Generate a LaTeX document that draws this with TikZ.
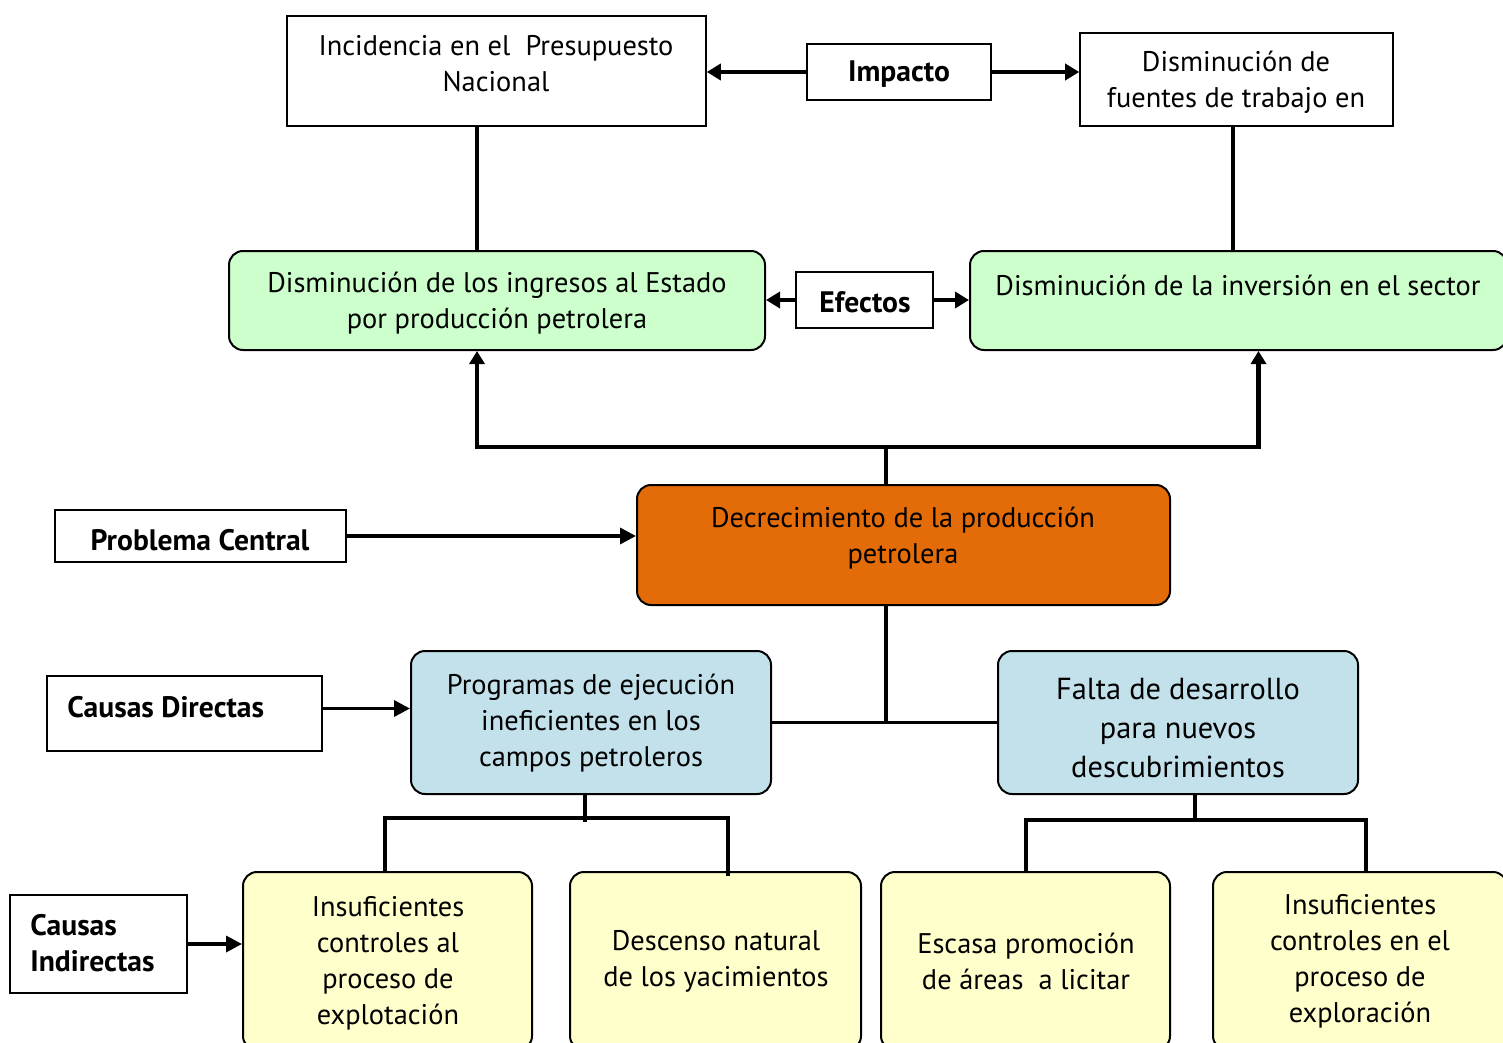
\documentclass[tikz,border=0pt]{standalone}
\usepackage{fontspec}
\setmainfont{PT Sans}
\usetikzlibrary{arrows.meta,calc,fit}
\definecolor{cgreen}{HTML}{CCFFCC}
\definecolor{cblue}{HTML}{C3E1EA}
\definecolor{cyellow}{HTML}{FFFFCC}
\definecolor{corange}{HTML}{E36C09}
\begin{document}
\begin{tikzpicture}[x=0.5pt,y=-0.5pt,
  sqbox/.style={draw,line width=0.8pt,inner sep=0pt},
  rbox/.style={draw,line width=1pt,rounded corners=7pt,inner sep=0pt},
  txt/.style={align=center,font=\fontsize{14.2}{18}\selectfont,inner sep=0pt},
  btxt/.style={txt,font=\fontsize{14.8}{18}\selectfont\bfseries},
  conn/.style={line width=1.6pt},
  arr/.style={line width=2.2pt,-{Triangle[length=7pt,width=8pt]}},
  thinarr/.style={line width=1.7pt,-{Triangle[length=8pt,width=8pt]}},
  darr/.style={line width=2.2pt,{Triangle[length=6.5pt,width=7.5pt]}-{Triangle[length=6.5pt,width=7.5pt]}}]
\useasboundingbox (0,0) rectangle (1503,1043);
\clip (0,0) rectangle (1503,1043);
\fill[white] (0,0) rectangle (1503,1043);
% top row
\node[sqbox,fit={(287,16) (706,126)}] (inc) {};
\node[txt] (incT) at (496,64) {Incidencia en el\ \ Presupuesto\\Nacional};
\node[sqbox,fit={(807,44) (991,100)}] (imp) {};
\node[btxt] (impT) at (899,74) {Impacto};
\node[sqbox,fit={(1080,33) (1393,126)}] (fu) {};
\node[txt] (fuT) at (1236,82) {Disminución de\\fuentes de trabajo en};
% effects row
\node[rbox,fill=cgreen,fit={(229,251) (765,350)}] (lg) {};
\node[txt] (lgT) at (497,303) {Disminución de los ingresos al Estado\\por producción petrolera};
\node[sqbox,fit={(796,272) (933,328)}] (ef) {};
\node[btxt] (efT) at (865,302) {Efectos};
\node[rbox,fill=cgreen,fit={(970,251) (1507,350)}] (rg) {};
\node[txt] (rgT) at (1238,285) {Disminución de la inversión en el sector};
% central problem
\node[sqbox,fit={(55,510) (346,562)}] (pc) {};
\node[btxt] (pcT) at (200,540) {Problema Central};
\node[rbox,fill=corange,fit={(637,485) (1170,605)}] (cen) {};
\node[txt] (cenT) at (903,538) {Decrecimiento de la producción\\petrolera};
% direct causes
\node[sqbox,fit={(47,676) (322,751)}] (cd) {};
\node[btxt,anchor=west] (cdT) at (67,707) {Causas Directas};
\node[rbox,fill=cblue,fit={(411,651) (771,794)}] (lb) {};
\node[txt] (lbT) at (591,723) {Programas de ejecución\\ineficientes en los\\campos petroleros};
\node[rbox,fill=cblue,fit={(998,651) (1358,794)}] (rb) {};
\node[txt,font=\fontsize{15.2}{19.5}\selectfont] (rbT) at (1178,728) {Falta de desarrollo\\para nuevos\\descubrimientos};
% indirect causes
\node[sqbox,fit={(10,895) (187,993)}] (ci) {};
\node[btxt,align=left,anchor=west] (ciT) at (30,943) {Causas\\Indirectas};
\node[rbox,fill=cyellow,fit={(243,872) (532,1050)}] (y1) {};
\node[txt] (y1T) at (388,963) {Insuficientes\\controles al\\proceso de\\explotación};
\node[rbox,fill=cyellow,fit={(570,872) (861,1050)}] (y2) {};
\node[txt] (y2T) at (716,961) {Descenso natural\\de los yacimientos};
\node[rbox,fill=cyellow,fit={(881,872) (1170,1050)}] (y3) {};
\node[txt] (y3T) at (1026,961) {Escasa promoción\\de áreas\ \ a licitar};
\node[rbox,fill=cyellow,fit={(1213,872) (1507,1050)}] (y4) {};
\node[txt] (y4T) at (1360,961) {Insuficientes\\controles en el\\proceso de\\exploración};
% connectors top
\draw[arr] (imp.west) -- (inc.east |- imp.west);
\draw[arr] (imp.east) -- (fu.west |- imp.east);
\draw[arr] (ef.west) -- (lg.east |- ef.west);
\draw[arr] (ef.east) -- (rg.west |- ef.east);
\coordinate (a1) at ($(inc.south)+(-19.5,0)$);
\draw[conn] (a1) -- (a1 |- lg.north);
\coordinate (a2) at ($(fu.south)+(-3.5,0)$);
\draw[conn] (a2) -- (a2 |- rg.north);
% central up
\coordinate (j1) at ($(cen.north)+(-17.5,0)$);
\coordinate (j1t) at ($(j1)+(0,-37)$);
\draw[conn] (j1) -- (j1t);
\coordinate (l1) at ($(lg.south)+(-20,0)$);
\coordinate (r1) at ($(rg.south)+(20,0)$);
\draw[darr] (l1) |- (j1t) -| (r1);
% problem
\draw[thinarr] (pc.east) -- (cen.west |- pc.east);
% central down
\coordinate (j2) at ($(cen.south)+(-17.5,0)$);
\draw[conn] (j2) -- (j2 |- lb.east);
\draw[conn] (lb.east) -- (rb.west);
\coordinate (cdo) at ($(cd.east)+(0,-5)$);
\draw[thinarr] (cdo) -- (lb.west |- cdo);
% left blue down
\coordinate (b1) at ($(lb.south)+(-6,0)$);
\coordinate (b1m) at ($(b1)+(0,23)$);
\draw[conn] (b1) -- ($(b1m)+(0,4)$);
\coordinate (y1n) at ($(y1.north)+(-2.5,0)$);
\coordinate (y2n) at ($(y2.north)+(12.5,5)$);
\draw[conn] (y1n) |- (b1m) -| (y2n);
% right blue down
\coordinate (b2) at ($(rb.south)+(17,0)$);
\coordinate (b2m) at ($(b2)+(0,25)$);
\draw[conn] (b2) -- ($(b2m)+(0,2)$);
\coordinate (y3n) at ($(y3.north)+(0.5,0)$);
\coordinate (y4n) at ($(y4.north)+(6,0)$);
\draw[conn] (y3n) |- (b2m) -| (y4n);
% indirect
\draw[thinarr] (ci.east) -- (y1.west |- ci.east);
\end{tikzpicture}
\end{document}
